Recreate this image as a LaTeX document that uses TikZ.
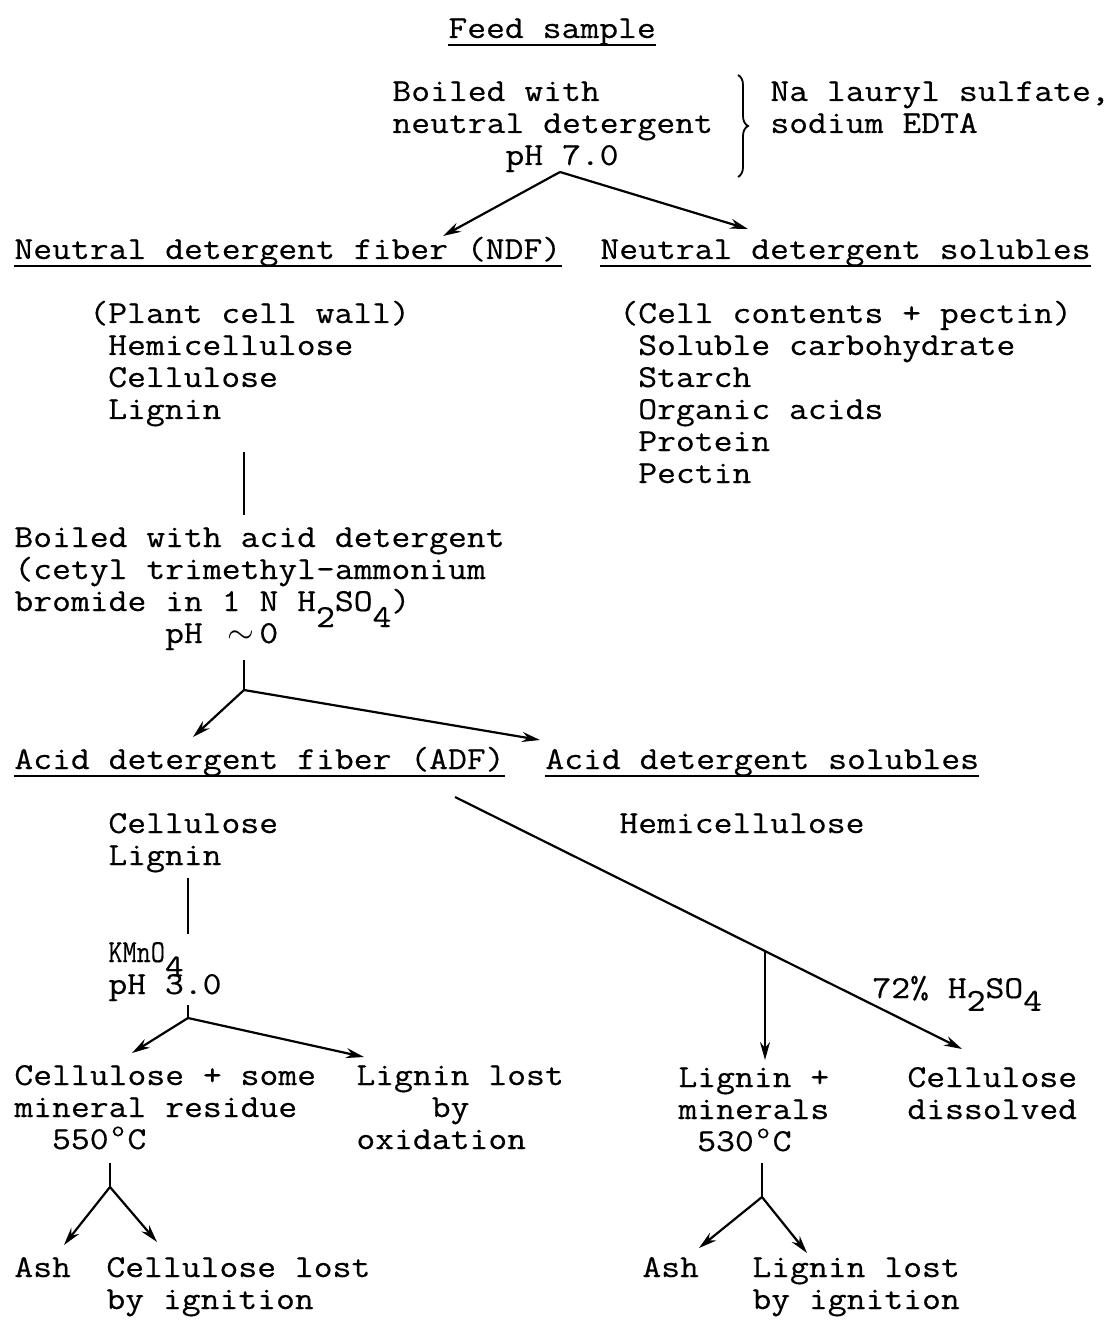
\documentclass[tikz,border=0pt]{standalone}
\usepackage{fontspec}
\setmonofont{Latin Modern Mono}[FakeStretch=1.144,FakeBold=0.4]
\usetikzlibrary{arrows.meta,decorations.pathreplacing}
\newlength\cw \setlength\cw{9.42pt}
\newcommand\sk[1]{\hspace*{#1\cw}}
\newcommand\dn[2][0.45em]{\makebox[\cw][l]{\raisebox{-#1}[0pt][0pt]{#2}}}
\newcommand\dg{\makebox[\cw][c]{\raisebox{0.4em}{\fontsize{11}{11}\selectfont o}}}
\begin{document}
\begin{tikzpicture}[x=0.5pt,y=-0.5pt,
  txt/.style={font=\ttfamily\fontsize{16}{16}\selectfont, inner sep=0pt, anchor=base west, align=left},
  ln/.style={line width=1.1pt},
  arr/.style={line width=1.1pt, -{Stealth[length=9pt,width=5pt]}},
  ul/.style={line width=1.1pt}]
\fill[white] (0,0) rectangle (1112,1325);
\useasboundingbox (0,0) rectangle (1112,1325);

% texts (a multi-line node's base is the baseline of its last line)
\node[txt] (feed) at (448,38) {Feed sample};
\node[txt] (boil) at (392,165) {Boiled with\\neutral detergent\\\sk{6}pH 7.0};
\node[txt] (na) at (770,133) {Na lauryl sulfate,\\sodium EDTA};
\node[txt] (ndf) at (14,259) {Neutral detergent fiber (NDF)};
\node[txt] (nds) at (600,259) {Neutral detergent solubles};
\node[txt] (ndfl) at (89,419) {(Plant cell wall)\\\sk{1}Hemicellulose\\\sk{1}Cellulose\\\sk{1}Lignin};
\node[txt] (ndsl) at (619,483) {(Cell contents + pectin)\\\sk{1}Soluble carbohydrate\\\sk{1}Starch\\\sk{1}Organic acids\\\sk{1}Protein\\\sk{1}Pectin};
\node[txt] (acid) at (14,643) {Boiled with acid detergent\\(cetyl trimethyl-ammonium\\bromide in 1 N H\dn[0.5em]{2}SO\dn[0.5em]{4})\\\sk{8}pH\sk{1}\makebox[2\cw][c]{$\sim$}0};
\node[txt] (adf) at (14,769) {Acid detergent fiber (ADF)};
\node[txt] (ads) at (545,769) {Acid detergent solubles};
\node[txt] (adfl) at (108,865) {Cellulose\\Lignin};
\node[txt] (adsl) at (619,833) {Hemicellulose};
\node[txt] (kmn) at (108,994) {\scalebox{0.75}[1]{KMnO}\dn[0.45em]{4}\\pH 3.0};
\node[txt] (cel) at (14,1149) {Cellulose + some\\mineral residue\\\sk{2}550\dg C};
\node[txt] (lig) at (356,1149) {Lignin lost\\\sk{4}by\\oxidation};
\node[txt] (ash1) at (14,1277) {Ash};
\node[txt] (cli) at (106,1309) {Cellulose lost\\by ignition};
\node[txt] (h2) at (872,998) {72\% H\dn[0.4em]{2}SO\dn[0.4em]{4}};
\node[txt] (lm) at (678,1151) {Lignin +\\minerals\\\sk{1}530\dg C};
\node[txt] (cd) at (907,1119) {Cellulose\\dissolved};
\node[txt] (ash2) at (642,1277) {Ash};
\node[txt] (lli) at (752,1309) {Lignin lost\\by ignition};

% underlines
\foreach \n in {feed,ndf,nds,adf,ads}
  \draw[ul] ([yshift=-3.5pt]\n.base west) -- ([yshift=-3.5pt]\n.base east);

% brace
\coordinate (bra) at (738,75);
\coordinate (brb) at (738,177);
\draw[line width=0.9pt, decorate, decoration={brace, amplitude=5pt}] (bra) -- (brb);

% first split
\coordinate (a1) at (560,172);
\coordinate (t1l) at (443,236);
\coordinate (t1r) at (748,229);
\draw[arr] (a1) -- (t1l);
\draw[arr] (a1) -- (t1r);

% NDF -> acid detergent
\coordinate (v1a) at (244,452);
\coordinate (v1b) at (244,515);
\draw[ln] (v1a) -- (v1b);

% acid split
\coordinate (v2a) at (244,660);
\coordinate (a2) at (244,690);
\coordinate (t2l) at (193,737);
\coordinate (t2r) at (540,740);
\draw[ln] (v2a) -- (a2);
\draw[arr] (a2) -- (t2l);
\draw[arr] (a2) -- (t2r);

% diagonal 72% H2SO4
\coordinate (d0) at (455,797);
\coordinate (d1) at (962,1049);
\coordinate (db) at (765,951);
\coordinate (dv) at (765,1060);
\draw[arr] (d0) -- (d1);
\draw[arr] (db) -- (dv);

% KMnO4
\coordinate (v3a) at (188,878);
\coordinate (v3b) at (188,934);
\draw[ln] (v3a) -- (v3b);
\coordinate (v4a) at (188,1005);
\coordinate (a4) at (188,1018);
\coordinate (t4l) at (132,1053);
\coordinate (t4r) at (364,1057);
\draw[ln] (v4a) -- (a4);
\draw[arr] (a4) -- (t4l);
\draw[arr] (a4) -- (t4r);

% 550 C split
\coordinate (v5a) at (110,1163);
\coordinate (a5) at (110,1187);
\coordinate (t5l) at (64,1245);
\coordinate (t5r) at (157,1242);
\draw[ln] (v5a) -- (a5);
\draw[arr] (a5) -- (t5l);
\draw[arr] (a5) -- (t5r);

% 530 C split
\coordinate (v6a) at (762,1163);
\coordinate (a6) at (762,1197);
\coordinate (t6l) at (699,1248);
\coordinate (t6r) at (807,1253);
\draw[ln] (v6a) -- (a6);
\draw[arr] (a6) -- (t6l);
\draw[arr] (a6) -- (t6r);
\end{tikzpicture}
\end{document}
